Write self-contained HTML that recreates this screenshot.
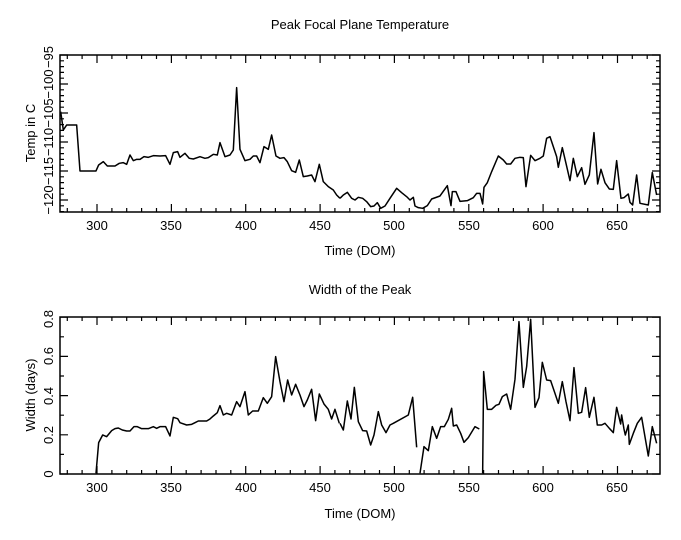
<!DOCTYPE html>
<html><head><meta charset="utf-8"><style>
html,body{margin:0;padding:0;background:#fff;}
svg{display:block;font-family:"Liberation Sans",sans-serif;font-size:13px;}
</style></head><body>
<svg id="s" width="681" height="540" viewBox="0 0 681 540" xmlns="http://www.w3.org/2000/svg">
<rect width="681" height="540" fill="#fff"/>
<text x="360" y="29" text-anchor="middle">Peak Focal Plane Temperature</text>
<text x="360" y="255" text-anchor="middle">Time (DOM)</text>
<text x="360" y="294" text-anchor="middle">Width of the Peak</text>
<text x="360" y="518" text-anchor="middle">Time (DOM)</text>
<text transform="translate(35,133) rotate(-90)" text-anchor="middle">Temp in C</text>
<text transform="translate(35,395) rotate(-90)" text-anchor="middle">Width (days)</text>
<g text-anchor="middle">
<text x="97" y="230">300</text><text x="171" y="230">350</text><text x="246" y="230">400</text><text x="320" y="230">450</text><text x="394" y="230">500</text><text x="469" y="230">550</text><text x="543" y="230">600</text><text x="617" y="230">650</text>
<text x="97" y="492">300</text><text x="171" y="492">350</text><text x="246" y="492">400</text><text x="320" y="492">450</text><text x="394" y="492">500</text><text x="469" y="492">550</text><text x="543" y="492">600</text><text x="617" y="492">650</text>
<text transform="translate(53,200) rotate(-90)">−120</text>
<text transform="translate(53,171) rotate(-90)">−115</text>
<text transform="translate(53,142) rotate(-90)">−110</text>
<text transform="translate(53,113) rotate(-90)">−105</text>
<text transform="translate(53,84) rotate(-90)">−100</text>
<text transform="translate(53,57) rotate(-90)">−95</text>
<text transform="translate(53,474) rotate(-90)">0</text>
<text transform="translate(53,435) rotate(-90)">0.2</text>
<text transform="translate(53,396) rotate(-90)">0.4</text>
<text transform="translate(53,356) rotate(-90)">0.6</text>
<text transform="translate(53,319) rotate(-90)">0.8</text>
</g>
<rect x="60" y="55" width="600" height="157" fill="none" stroke="#000" stroke-width="1.5"/>
<rect x="60" y="317" width="600" height="157" fill="none" stroke="#000" stroke-width="1.5"/>
<g id="ticks" stroke="#000" stroke-width="1.2"></g>
<g fill="none" stroke="#000" stroke-width="4.5" stroke-linejoin="round">
<polyline transform="translate(0,40) scale(0.3333)" points="182,215 190,270 200,255 230,255 240,393 288,393 296,375 310,365 322,378 345,378 358,370 370,368 380,373 390,345 400,362 410,358 420,358 432,350 445,352 460,347 480,348 497,347 510,373 520,338 533,335 540,352 555,340 568,355 580,357 600,350 615,355 625,353 640,343 652,345 660,308 675,350 690,345 700,330 710,143 720,328 735,362 750,358 760,348 770,348 780,368 792,320 805,328 815,285 828,348 840,355 852,353 862,365 875,392 887,397 898,360 910,410 922,408 935,405 945,425 958,373 970,425 985,440 1000,450 1010,465 1020,475"/>
<polyline transform="translate(340,40) scale(0.3333)" points="0,475 10,465 22,457 35,475 45,480 55,472 68,475 80,485 92,500 102,498 112,488 122,505 135,498 150,475 170,445 185,458 200,470 210,480 220,472 225,498 235,503 248,505 262,497 275,477 300,468 322,437 333,497 337,455 348,455 360,484 382,482 400,473 410,460 420,460 428,492 432,442 442,428 455,395 475,348 490,360 500,372 512,372 525,355 540,352 550,353 558,440 572,346 585,362 600,355 610,348 620,295 630,290 650,350 655,382 667,323 678,370 690,422 700,355 712,410 725,383 735,433 748,405 762,278 773,432 783,388 795,428 808,447 820,448 830,362 843,475 852,473 865,462 870,487 878,495 890,405 900,490 925,495 937,398 950,465"/>
<polyline transform="translate(0,300) scale(0.3333)" points="288,520 296,428 308,405 320,410 335,392 345,386 355,384 367,390 380,393 390,393 402,380 412,380 425,386 445,386 460,380 470,385 480,380 497,380 510,408 520,352 533,356 540,368 560,375 575,373 585,368 595,363 620,363 630,357 640,348 652,338 660,317 670,345 680,340 695,345 710,305 720,320 735,275 745,345 758,333 775,333 790,293 802,310 815,290 827,170 840,245 852,305 863,240 875,285 887,253 900,285 912,320 922,300 935,268 947,362 958,282 972,312 985,328 995,357 1005,328 1018,370"/>
<polyline transform="translate(340,300) scale(0.3333)" points="0,370 10,390 22,303 33,357 43,262 55,365 68,392 80,393 92,435 102,405 115,335 125,375 138,398 150,375 160,370 205,345 218,292 230,442"/>
<polyline transform="translate(340,300) scale(0.3333)" points="240,520 252,440 265,452 277,380 290,415 302,380 313,380 325,358 335,325 340,378 350,375 362,400 372,427 385,413 405,380 418,387"/>
<polyline transform="translate(340,300) scale(0.3333)" points="428,520 431,215 442,328 455,328 468,316 477,313 487,290 500,282 512,328 525,238 537,65 550,262 560,200 572,58 585,322 597,293 607,187 620,240 632,242 645,280 655,310 667,245 678,305 690,362 702,203 715,340 725,337 737,263 748,352 762,292 772,375 785,375 795,370 808,385 820,398 830,322 842,372 845,345 852,387 856,405 865,375 868,433 880,400 892,370 905,352 925,468 937,380 950,430"/>
</g>
</svg>
<script>
var g=document.getElementById('ticks'),d='';
function L(x1,y1,x2,y2){d+='M'+x1.toFixed(1)+' '+y1.toFixed(1)+'L'+x2.toFixed(1)+' '+y2.toFixed(1);}
[[55,212],[317,474]].forEach(function(b){
 for(var v=280;v<=675;v+=10){var x=97+(v-300)*1.487;var m=(v%50==0)?8:4;
  L(x,b[0],x,b[0]+m);L(x,b[1],x,b[1]-m);}
});
for(var v=-122;v<=-95;v++){var y=200-(v+120)*5.8;var m=(v%5==0)?8:4;L(60,y,60+m,y);L(660,y,660-m,y);}
for(var i=0;i<=8;i++){var y=474-i*19.6;var m=(i%2==0)?8:4;L(60,y,60+m,y);L(660,y,660-m,y);}
var p=document.createElementNS('http://www.w3.org/2000/svg','path');p.setAttribute('d',d);g.appendChild(p);
</script>
</body></html>
